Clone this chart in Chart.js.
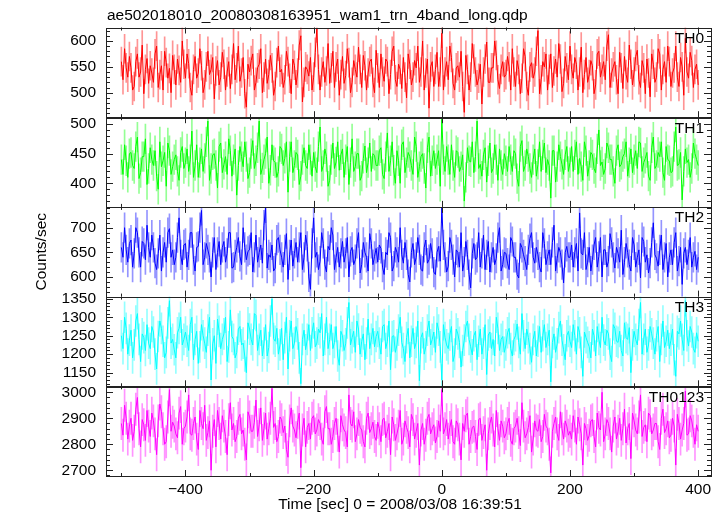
<!DOCTYPE html>
<html>
<head>
<meta charset="utf-8">
<script src="https://cdn.jsdelivr.net/npm/chart.js@4.4.1/dist/chart.umd.min.js"></script>
<style>
  html, body { margin: 0; padding: 0; background: #fff; }
</style>
</head>
<body>
<canvas id="wam-chart" width="724" height="516"></canvas>
<script>
const titleText = "ae502018010_20080308163951_wam1_trn_4band_long.qdp";
const xTitle = "Time [sec] 0 = 2008/03/08 16:39:51";
const yTitle = "Counts/sec";
const bandNames = ["TH0", "TH1", "TH2", "TH3", "TH0123"];
const bandColors = ["#ff0000", "#00ff00", "#0000ff", "#00ffff", "#ff00ff"];
const barColors = ["rgba(255,0,0,0.42)", "rgba(0,255,0,0.42)", "rgba(0,0,255,0.42)", "rgba(0,255,255,0.42)", "rgba(255,0,255,0.42)"];

// time bins (sec), 2.5 s wide starting at -500:
// the "grid" arrays hold the bins at -500, -495, ... and the "mid" arrays the bins halfway between
const binStart = -500;
const binWidth = 2.5;
const xTicks = [-400, -200, 0, 200, 400];

const th0 = [
  560, 585, 530, 548, 512, 575, 540, 498, 566, 552, 520, 590, 535, 505, 558, 547, 572, 515, 543, 600,
  528, 556, 495, 570, 538, 552, 515, 580, 545, 488, 562, 530, 555, 540, 508, 595, 548, 522, 568, 472,
  540, 575, 520, 555, 500, 565, 535, 548, 512, 590, 545, 525, 560, 498, 553, 538, 610, 520, 545, 568,
  530, 625, 505, 560, 542, 518, 580, 550, 495, 570, 533, 558, 520, 545, 588, 510, 552, 538, 565, 500,
  548, 575, 522, 560, 535, 590, 512, 545, 568, 490, 555, 530, 548, 520, 600, 538, 470, 560, 545, 512,
  615, 540, 525, 568, 505, 552, 580, 462, 545, 530, 565, 515, 555, 540, 598, 520, 548, 572, 508, 560,
  535, 550, 585, 512, 545, 528, 570, 495, 558, 540, 620, 525, 550, 505, 575, 542, 530, 565, 518, 548,
  590, 528, 555, 540, 500, 568, 535, 552, 515, 580, 545, 525, 612, 538, 560, 498, 548, 570, 520, 555,
  540, 582, 510, 548, 565, 492, 555, 530, 575, 545, 520, 560, 538, 590, 512, 550, 605, 528, 562, 545,
  515
];
const th0Mid = [
  525, 548, 570, 505, 560, 530, 592, 545, 518, 538, 575, 510, 552, 580, 528, 500, 545, 565, 520, 555,
  575, 510, 545, 528, 585, 500, 550, 535, 568, 542, 515, 578, 505, 560, 545, 525, 590, 538, 498, 555,
  562, 505, 548, 585, 530, 518, 572, 495, 558, 540, 510, 580, 528, 565, 515, 592, 482, 550, 532, 505,
  578, 545, 540, 520, 595, 548, 510, 565, 535, 518, 585, 500, 562, 530, 545, 572, 505, 560, 520, 582,
  510, 540, 565, 498, 580, 525, 555, 508, 530, 575, 515, 562, 590, 540, 505, 565, 550, 512, 578, 540,
  505, 560, 590, 518, 548, 530, 512, 572, 505, 595, 540, 528, 478, 565, 520, 548, 600, 525, 545, 530,
  570, 505, 540, 562, 498, 585, 512, 550, 528, 580, 498, 560, 575, 545, 510, 565, 595, 502, 570, 525,
  545, 568, 505, 588, 535, 520, 562, 498, 575, 530, 560, 590, 510, 550, 525, 578, 508, 535, 592, 515,
  570, 525, 562, 498, 538, 575, 520, 585, 505, 560, 590, 512, 548, 530, 568, 495, 540, 578, 510, 555
];
const th1 = [
  440, 465, 410, 452, 425, 478, 418, 445, 398, 460, 430, 412, 470, 438, 395, 455, 428, 448, 405, 462,
  435, 420, 488, 430, 410, 458, 442, 505, 425, 450, 392, 468, 432, 415, 455, 440, 380, 462, 428, 445,
  418, 472, 438, 505, 426, 450, 400, 465, 435, 420, 458, 442, 385, 470, 430, 448, 412, 460, 425, 440,
  452, 418, 495, 430, 445, 405, 468, 436, 422, 458, 440, 398, 475, 428, 450, 412, 463, 435, 420, 447,
  430, 460, 408, 485, 438, 422, 455, 400, 470, 435, 445, 415, 462, 428, 450, 392, 478, 438, 425, 455,
  508, 420, 440, 465, 410, 452, 428, 370, 460, 436, 418, 505, 432, 448, 402, 468, 425, 440, 458, 415,
  438, 462, 420, 450, 395, 472, 430, 445, 410, 458, 432, 420, 468, 440, 375, 455, 428, 445, 415, 462,
  435, 420, 470, 442, 405, 455, 430, 448, 418, 490, 436, 425, 460, 440, 400, 465, 432, 450, 412, 458,
  440, 425, 468, 435, 452, 405, 478, 430, 445, 418, 462, 438, 420, 495, 432, 372, 458, 440, 425, 450,
  430
];
const th1Mid = [
  415, 438, 450, 430, 462, 408, 445, 475, 425, 440, 455, 390, 428, 452, 468, 415, 440, 420, 452, 425,
  458, 440, 410, 465, 435, 420, 470, 405, 448, 430, 462, 418, 445, 475, 412, 458, 430, 445, 470, 408,
  450, 425, 460, 415, 440, 478, 422, 438, 410, 462, 430, 470, 445, 418, 452, 398, 440, 430, 465, 412,
  428, 462, 420, 458, 395, 440, 425, 470, 448, 410, 462, 435, 420, 450, 405, 442, 418, 468, 450, 430,
  455, 415, 445, 420, 470, 400, 438, 465, 418, 452, 430, 478, 410, 445, 425, 460, 412, 455, 440, 395,
  440, 462, 415, 430, 455, 420, 448, 410, 438, 470, 445, 425, 412, 460, 438, 418, 465, 405, 430, 450,
  420, 440, 455, 408, 462, 420, 458, 425, 440, 412, 470, 448, 418, 430, 455, 402, 465, 432, 448, 420,
  462, 448, 415, 428, 470, 412, 452, 425, 458, 430, 415, 468, 440, 420, 455, 428, 445, 470, 435, 418,
  455, 470, 420, 442, 412, 460, 425, 452, 470, 405, 440, 418, 462, 430, 452, 420, 435, 410, 468, 440
];
const th2 = [
  660, 700, 630, 675, 648, 690, 620, 668, 705, 640, 660, 615, 685, 650, 630, 698, 655, 640, 720, 625,
  668, 645, 690, 612, 662, 735, 640, 655, 600, 680, 650, 625, 672, 648, 690, 620, 660, 642, 700, 635,
  655, 610, 685, 650, 628, 740, 645, 665, 618, 680, 640, 655, 595, 675, 648, 630, 690, 640, 662, 575,
  720, 650, 632, 668, 610, 655, 685, 640, 620, 672, 648, 600, 660, 635, 690, 625, 650, 612, 668, 642,
  630, 658, 605, 645, 680, 622, 650, 700, 628, 645, 590, 668, 640, 655, 612, 675, 635, 648, 605, 662,
  740, 640, 622, 665, 600, 650, 690, 630, 645, 578, 668, 640, 620, 685, 645, 610, 660, 638, 700, 625,
  648, 615, 672, 640, 598, 660, 632, 655, 690, 628, 645, 610, 668, 642, 625, 705, 638, 650, 588, 662,
  640, 620, 668, 730, 645, 615, 660, 635, 680, 642, 600, 655, 632, 670, 618, 648, 695, 630, 650, 612,
  665, 640, 598, 672, 645, 628, 710, 638, 655, 615, 668, 640, 625, 690, 632, 585, 660, 645, 620, 652,
  640
];
const th2Mid = [
  640, 655, 668, 620, 700, 650, 672, 635, 660, 685, 628, 648, 612, 670, 690, 640, 625, 680, 645, 665,
  620, 690, 635, 660, 700, 625, 668, 640, 650, 615, 672, 660, 630, 690, 618, 645, 680, 625, 660, 652,
  690, 640, 630, 665, 705, 618, 640, 612, 675, 655, 620, 688, 645, 622, 670, 660, 615, 685, 600, 668,
  640, 615, 690, 625, 662, 700, 615, 660, 648, 630, 680, 652, 625, 668, 608, 670, 640, 688, 625, 658,
  665, 620, 650, 690, 612, 660, 630, 645, 670, 605, 650, 625, 680, 615, 660, 628, 668, 610, 650, 632,
  665, 610, 680, 635, 655, 620, 612, 672, 605, 648, 635, 690, 648, 615, 672, 640, 625, 680, 612, 650,
  628, 680, 640, 605, 668, 645, 615, 678, 640, 660, 620, 690, 625, 655, 670, 612, 660, 625, 650, 640,
  665, 650, 612, 648, 690, 630, 612, 665, 620, 680, 655, 620, 688, 640, 660, 630, 605, 668, 625, 680,
  620, 655, 680, 630, 608, 670, 645, 622, 685, 640, 600, 655, 670, 612, 660, 648, 625, 680, 640, 615
];
const th3 = [
  1250, 1300, 1200, 1265, 1225, 1310, 1180, 1245, 1280, 1215, 1260, 1160, 1290, 1235, 1205, 1345, 1240, 1190, 1270, 1225,
  1260, 1210, 1300, 1240, 1175, 1280, 1230, 1265, 1130, 1250, 1295, 1215, 1255, 1180, 1320, 1240, 1205, 1275, 1230, 1150,
  1268, 1225, 1305, 1240, 1195, 1280, 1218, 1350, 1235, 1200, 1270, 1245, 1160, 1290, 1230, 1255, 1120, 1265, 1240, 1210,
  1285, 1230, 1258, 1195, 1300, 1240, 1215, 1275, 1170, 1250, 1228, 1340, 1245, 1205, 1268, 1235, 1185, 1295, 1240, 1220,
  1262, 1200, 1280, 1235, 1158, 1250, 1225, 1300, 1215, 1245, 1190, 1270, 1232, 1128, 1258, 1220, 1290, 1240, 1205, 1265,
  1130, 1245, 1215, 1275, 1200, 1255, 1165, 1238, 1290, 1220, 1250, 1185, 1268, 1230, 1145, 1260, 1240, 1300, 1210, 1248,
  1225, 1270, 1195, 1250, 1232, 1310, 1215, 1245, 1178, 1262, 1235, 1205, 1280, 1240, 1125, 1255, 1228, 1290, 1212, 1250,
  1235, 1280, 1200, 1258, 1140, 1245, 1220, 1268, 1195, 1240, 1300, 1225, 1255, 1180, 1270, 1232, 1210, 1285, 1240, 1150,
  1262, 1225, 1340, 1240, 1205, 1275, 1230, 1250, 1180, 1290, 1235, 1215, 1268, 1140, 1255, 1240, 1345, 1222, 1260, 1205,
  1235
];
const th3Mid = [
  1215, 1270, 1238, 1190, 1290, 1240, 1255, 1210, 1230, 1275, 1200, 1248, 1270, 1190, 1285, 1230, 1212, 1258, 1300, 1240,
  1235, 1280, 1185, 1262, 1220, 1250, 1205, 1300, 1228, 1175, 1262, 1240, 1300, 1220, 1248, 1190, 1268, 1225, 1195, 1285,
  1240, 1310, 1210, 1265, 1230, 1195, 1290, 1242, 1270, 1225, 1185, 1300, 1250, 1215, 1275, 1190, 1240, 1212, 1280, 1258,
  1220, 1268, 1310, 1240, 1215, 1280, 1232, 1195, 1262, 1210, 1285, 1225, 1262, 1290, 1200, 1255, 1230, 1215, 1270, 1248,
  1230, 1275, 1215, 1290, 1248, 1205, 1265, 1232, 1180, 1270, 1235, 1215, 1290, 1245, 1200, 1265, 1225, 1260, 1285, 1220,
  1280, 1225, 1252, 1180, 1268, 1232, 1210, 1275, 1240, 1198, 1262, 1235, 1200, 1280, 1252, 1215, 1195, 1270, 1240, 1205,
  1258, 1215, 1240, 1282, 1200, 1250, 1268, 1215, 1240, 1195, 1275, 1250, 1218, 1265, 1232, 1205, 1272, 1238, 1185, 1262,
  1218, 1250, 1275, 1205, 1260, 1232, 1190, 1250, 1275, 1218, 1238, 1265, 1200, 1280, 1235, 1262, 1195, 1245, 1272, 1225,
  1240, 1280, 1200, 1268, 1225, 1255, 1200, 1275, 1240, 1218, 1265, 1238, 1185, 1262, 1290, 1210, 1250, 1275, 1215, 1258
];
const th0123 = [
  2880, 2950, 2820, 2900, 2850, 2980, 2790, 2875, 2930, 2830, 2890, 2760, 2955, 2860, 2810, 3010, 2885, 2840, 2920, 2800,
  2870, 2990, 2835, 2905, 2780, 2880, 2950, 2845, 2700, 2895, 2930, 2820, 2870, 2760, 2960, 2880, 2830, 2915, 2855, 2740,
  2905, 2850, 2970, 2875, 2815, 2920, 2860, 3015, 2880, 2830, 2895, 2870, 2750, 2940, 2855, 2885, 2710, 2900, 2865, 2820,
  2910, 2855, 2880, 2800, 2945, 2860, 2830, 2900, 2770, 2875, 2845, 2990, 2870, 2810, 2895, 2855, 2790, 2920, 2860, 2830,
  2885, 2810, 2900, 2850, 2760, 2875, 2840, 2930, 2820, 2865, 2790, 2895, 2850, 2720, 2880, 2835, 2915, 2860, 2805, 2890,
  3010, 2860, 2820, 2895, 2800, 2875, 2740, 2850, 2920, 2830, 2870, 2780, 2900, 2845, 2700, 2880, 2855, 2930, 2815, 2870,
  2840, 2900, 2800, 2870, 2845, 2960, 2825, 2865, 2770, 2890, 2850, 2810, 2915, 2860, 2690, 2880, 2840, 2925, 2820, 2870,
  2850, 2910, 2800, 2875, 2720, 2860, 2835, 2895, 2790, 2865, 3000, 2840, 2880, 2770, 2905, 2850, 2815, 2935, 2860, 2745,
  2890, 2840, 2990, 2865, 2810, 2910, 2855, 2880, 2780, 2935, 2860, 2825, 2900, 2720, 2880, 2855, 3005, 2840, 2890, 2800,
  2850
];
const th0123Mid = [
  2835, 2900, 2870, 2815, 2935, 2860, 2895, 2815, 2870, 2920, 2840, 2890, 2925, 2800, 2905, 2850, 2870, 2825, 2945, 2860,
  2905, 2840, 2880, 2820, 2930, 2860, 2815, 2890, 2850, 2790, 2880, 2910, 2830, 2895, 2855, 2810, 2900, 2840, 2800, 2925,
  2850, 2885, 2830, 2940, 2860, 2820, 2900, 2865, 2810, 2905, 2845, 2780, 2890, 2870, 2825, 2920, 2855, 2790, 2880, 2900,
  2840, 2895, 2820, 2925, 2860, 2800, 2880, 2835, 2910, 2855, 2790, 2880, 2925, 2840, 2865, 2810, 2900, 2845, 2885, 2815,
  2860, 2895, 2825, 2880, 2905, 2815, 2870, 2800, 2890, 2845, 2915, 2820, 2880, 2855, 2800, 2900, 2840, 2875, 2830, 2850,
  2840, 2895, 2865, 2810, 2890, 2820, 2880, 2910, 2800, 2865, 2830, 2895, 2815, 2875, 2840, 2905, 2790, 2860, 2890, 2825,
  2880, 2815, 2860, 2900, 2795, 2870, 2840, 2910, 2820, 2855, 2895, 2830, 2870, 2800, 2850, 2905, 2815, 2860, 2890, 2835,
  2820, 2870, 2905, 2840, 2880, 2815, 2890, 2830, 2920, 2855, 2810, 2895, 2840, 2870, 2820, 2900, 2860, 2805, 2880, 2920,
  2855, 2905, 2830, 2875, 2920, 2840, 2880, 2810, 2900, 2845, 2890, 2835, 2870, 2915, 2820, 2880, 2835, 2910, 2850, 2875
];
// typical 1-sigma error of each band (counts/sec)
const bandErrors = [28, 25, 30, 42, 62];

const yRanges = [[452.6, 626], [360.2, 511.5], [560.2, 742.2], [1113, 1356], [2678, 3023]];
const yTicks = [
  [500, 550, 600],
  [400, 450, 500],
  [600, 650, 700],
  [1150, 1200, 1250, 1300, 1350],
  [2700, 2800, 2900, 3000]
];
const yMinorStep = [10, 10, 10, 10, 20];

// put the grid and mid bins back into time order
function mergeBins(grid, mid) {
  const out = [];
  grid.forEach((v, k) => {
    out.push(v);
    if (k < mid.length) out.push(mid[k]);
  });
  return out;
}
const bandValues = [
  mergeBins(th0, th0Mid),
  mergeBins(th1, th1Mid),
  mergeBins(th2, th2Mid),
  mergeBins(th3, th3Mid),
  mergeBins(th0123, th0123Mid)
];
const times = bandValues[0].map((v, k) => binStart + k * binWidth);

const FONT = "Liberation Sans, Arial, Helvetica, sans-serif";

const datasets = [];
bandValues.forEach((vals, i) => {
  const lo = yRanges[i][0], hi = yRanges[i][1], err = bandErrors[i];
  datasets.push({
    type: "line",
    label: bandNames[i],
    data: vals.map((v, k) => ({ x: times[k], y: v })),
    yAxisID: "y" + i,
    borderColor: bandColors[i],
    borderWidth: 1,
    pointRadius: 0,
    tension: 0,
    order: 0
  });
  // error bars as thin floating bars, kept inside the band's panel
  datasets.push({
    type: "bar",
    label: bandNames[i] + " err",
    data: vals.map((v, k) => ({ x: times[k], y: [Math.max(v - err, lo), Math.min(v + err, hi)] })),
    yAxisID: "y" + i,
    backgroundColor: barColors[i],
    borderWidth: 0,
    barThickness: 1,
    grouped: false,
    order: 1
  });
});

const scales = {
  x: {
    type: "linear",
    position: "bottom",
    min: -524,
    max: 420,
    offset: false,
    grid: { display: false, drawTicks: false },
    border: { display: false },
    ticks: {
      padding: 4,
      color: "#000",
      font: { family: FONT, size: 15.5 },
      callback: v => String(v).replace("-", "\u2212")
    },
    afterBuildTicks: s => { s.ticks = xTicks.map(v => ({ value: v })); },
    afterFit: s => { s.height = 40; s.paddingLeft = 0; s.paddingRight = 0; }
  }
};
bandNames.forEach((name, i) => {
  scales["y" + i] = {
    type: "linear",
    position: "left",
    stack: "bands",
    stackWeight: 1,
    weight: 5 - i,
    min: yRanges[i][0],
    max: yRanges[i][1],
    grid: { display: false, drawTicks: false },
    border: { display: false },
    ticks: {
      autoSkip: false,
      padding: 10,
      color: "#000",
      font: { family: FONT, size: 15.5 },
      callback: v => String(v)
    },
    afterBuildTicks: s => { s.ticks = yTicks[i].map(v => ({ value: v })); },
    afterFit: s => { s.width = 96; s.paddingTop = 0; s.paddingBottom = 0; }
  };
});

// frames, inward ticks and texts
const panelPlugin = {
  id: "panels",
  afterDraw(chart) {
    const ctx = chart.ctx;
    const area = chart.chartArea;
    const xs = chart.scales.x;
    ctx.save();
    ctx.strokeStyle = "#222";
    ctx.lineWidth = 1;
    bandNames.forEach((name, i) => {
      const ys = chart.scales["y" + i];
      const top = ys.top, bot = ys.bottom;
      ctx.beginPath();
      // x ticks on top and bottom of each panel
      for (let v = -500; v <= 400; v += 100) {
        const px = Math.round(xs.getPixelForValue(v)) + 0.5;
        const len = v % 200 === 0 ? 6 : 3;
        ctx.moveTo(px, top); ctx.lineTo(px, top + len);
        ctx.moveTo(px, bot); ctx.lineTo(px, bot - len);
      }
      // y ticks on left and right
      const step = yMinorStep[i];
      for (let v = Math.ceil(ys.min / step) * step; v <= ys.max; v += step) {
        const py = Math.round(ys.getPixelForValue(v)) + 0.5;
        const len = yTicks[i].includes(v) ? 7 : 4;
        ctx.moveTo(area.left, py); ctx.lineTo(area.left + len, py);
        ctx.moveTo(area.right, py); ctx.lineTo(area.right - len, py);
      }
      ctx.stroke();
      ctx.strokeRect(Math.round(area.left) + 0.5, Math.round(top) + 0.5, Math.round(area.right - area.left), Math.round(bot - top));
      // band label
      ctx.fillStyle = "#000";
      ctx.font = "15.5px " + FONT;
      ctx.textAlign = "right";
      ctx.textBaseline = "alphabetic";
      ctx.fillText(name, area.right - 7, top + 15.5);
    });
    ctx.fillStyle = "#000";
    ctx.font = "15.5px " + FONT;
    ctx.textAlign = "left";
    ctx.textBaseline = "alphabetic";
    ctx.fillText(titleText, area.left + 1, 20);
    ctx.textAlign = "center";
    ctx.textBaseline = "middle";
    ctx.fillText(xTitle, 400, 505);
    ctx.translate(42, (area.top + area.bottom) / 2);
    ctx.rotate(-Math.PI / 2);
    ctx.fillText(yTitle, 0, 0);
    ctx.restore();
  }
};

new Chart(document.getElementById("wam-chart").getContext("2d"), {
  type: "line",
  data: { datasets: datasets },
  options: {
    responsive: false,
    animation: false,
    layout: { padding: { top: 27.5, right: 13, bottom: 0, left: 10 } },
    plugins: { legend: { display: false }, title: { display: false }, tooltip: { enabled: false } },
    scales: scales
  },
  plugins: [panelPlugin]
});
</script>
</body>
</html>
